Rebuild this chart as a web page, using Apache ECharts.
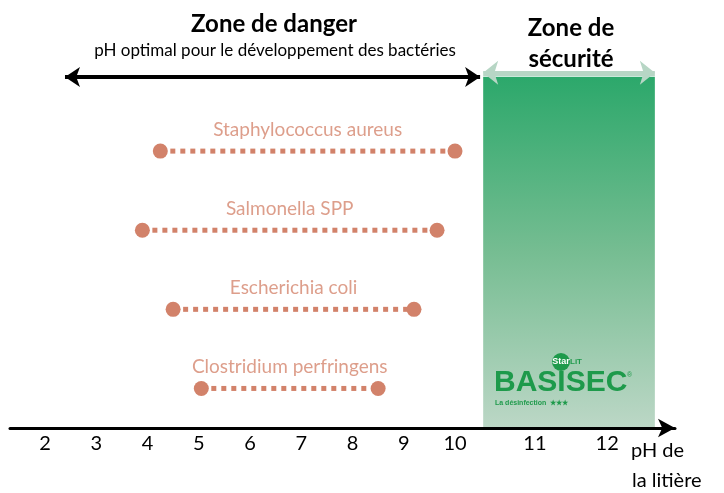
<!DOCTYPE html>
<html>
<head>
<meta charset="utf-8">
<script src="https://cdn.jsdelivr.net/npm/echarts@6.0.0/dist/echarts.min.js"></script>
<style>
  html, body { margin: 0; padding: 0; background: #fff; }
  #chart { width: 724px; height: 493px; }
</style>
</head>
<body>
<div id="chart"></div>
<script>
// bacteria growth ranges (pH)
var bacteria = ['Clostridium perfringens', 'Escherichia coli', 'Salmonella SPP', 'Staphylococcus aureus'];
var rowLevel = [1, 2, 3, 4];
var phLow = [5.05, 4.5, 3.9, 4.25];
var phHigh = [8.5, 9.2, 9.65, 10.0];

// zones
var dangerRange = [2.39, 10.49];
var safeRange = [10.55, 13.9];

// tick labels, and where each one sits on the pH scale in the reference
var tickLabels = ['2', '3', '4', '5', '6', '7', '8', '9', '10', '11', '12'];
var tickAt = [2, 3, 4, 5, 6, 7, 8, 9, 10, 11.56, 12.97];

var salmon = '#d2826a';
var font = 'Lato';

var chart = echarts.init(document.getElementById('chart'));

var bacteriaSeries = [];
for (var i = 0; i < bacteria.length; i++) {
	bacteriaSeries.push({
		name: bacteria[i],
		type: 'line',
		z: 4,
		data: [[phLow[i], rowLevel[i]], [phHigh[i], rowLevel[i]]],
		symbol: 'circle',
		symbolSize: 15,
		itemStyle: { color: salmon },
		lineStyle: { color: salmon, width: 5, type: [5, 5], cap: 'butt' },
		silent: true
	});
}

var nameData = [];
for (var j = 0; j < bacteria.length; j++) {
	nameData.push([(phLow[j] + phHigh[j]) / 2, rowLevel[j], bacteria[j]]);
}

function arrowSeries(range, level, color, width, size) {
	return {
		type: 'line',
		data: [],
		z: 3,
		silent: true,
		markLine: {
			silent: true,
			symbol: ['arrow', 'arrow'],
			symbolSize: size,
			label: { show: false },
			lineStyle: { color: color, width: width, type: 'solid' },
			emphasis: { disabled: true },
			data: [[{ coord: [range[0], level] }, { coord: [range[1], level] }]]
		}
	};
}

var option = {
	animation: false,
	grid: { left: 10, right: 49, top: 72, bottom: 65 },
	xAxis: {
		type: 'value',
		min: 1.317,
		max: 14.293,
		z: 5,
		axisLine: {
			lineStyle: { color: '#000', width: 3 },
			symbol: ['none', 'arrow'],
			symbolSize: [14, 17]
		},
		axisTick: { show: false },
		splitLine: { show: false },
		axisLabel: {
			customValues: tickAt,
			margin: 6,
			color: '#000',
			fontFamily: font,
			fontSize: 20,
			formatter: function (v) {
				var best = 0;
				for (var k = 0; k < tickAt.length; k++) {
					if (Math.abs(tickAt[k] - v) < Math.abs(tickAt[best] - v)) best = k;
				}
				return tickLabels[best];
			}
		}
	},
	yAxis: {
		type: 'value',
		min: 0.5,
		max: 5,
		show: false
	},
	series: [{
		type: 'line',
		data: [],
		z: 1,
		silent: true,
		markArea: {
			silent: true,
			itemStyle: {
				color: new echarts.graphic.LinearGradient(0, 0, 0, 1, [
					{ offset: 0, color: '#2ca86b' },
					{ offset: 0.5, color: '#76bd92' },
					{ offset: 1, color: '#bcd7c6' }
				])
			},
			data: [[{ xAxis: safeRange[0], yAxis: 4.94 }, { xAxis: safeRange[1], yAxis: 0.5 }]]
		}
	},
	arrowSeries(dangerRange, 4.937, '#000', 4, [15, 15]),
	arrowSeries(safeRange, 4.99, '#b7d6c5', 5, [18, 15])
	].concat(bacteriaSeries).concat([{
		type: 'scatter',
		z: 4,
		silent: true,
		symbolSize: 0,
		data: nameData,
		label: {
			show: true,
			position: 'top',
			distance: 12,
			color: '#d4866e',
			fontFamily: font,
			fontSize: 19,
			formatter: function (p) { return p.value[2]; }
		}
	}]),
	graphic: [
		{ type: 'text', x: 274, y: 24, style: { text: 'Zone de danger', font: 'bold 24px ' + font, fill: '#000', align: 'center', verticalAlign: 'middle' } },
		{ type: 'text', x: 275, y: 51, style: { text: 'pH optimal pour le développement des bactéries', font: '17px ' + font, fill: '#000', align: 'center', verticalAlign: 'middle' } },
		{ type: 'text', x: 571, y: 28, style: { text: 'Zone de', font: 'bold 24px ' + font, fill: '#000', align: 'center', verticalAlign: 'middle' } },
		{ type: 'text', x: 571, y: 59, style: { text: 'sécurité', font: 'bold 24px ' + font, fill: '#000', align: 'center', verticalAlign: 'middle' } },
		{ type: 'text', x: 631, y: 451, style: { text: 'pH de', font: '20px ' + font, fill: '#000', verticalAlign: 'middle' } },
		{ type: 'text', x: 632, y: 481, style: { text: 'la litière', font: '20px ' + font, fill: '#000', verticalAlign: 'middle' } },
		// BASISEC logo
		{ type: 'text', x: 494, y: 383, z: 10, style: { text: 'BASISEC', font: 'bold 30px "Liberation Sans"', fill: '#1e9a4b', verticalAlign: 'middle' } },
		{ type: 'circle', z: 10, shape: { cx: 561, cy: 362, r: 9 }, style: { fill: '#1e9a4b' } },
		{ type: 'text', x: 561, y: 362, z: 11, style: { text: 'Star', font: 'bold 9px "Liberation Sans"', fill: '#fff', align: 'center', verticalAlign: 'middle' } },
		{ type: 'text', x: 570, y: 362, z: 11, style: { text: 'LiT', font: 'bold 8px "Liberation Sans"', fill: '#1e9a4b', verticalAlign: 'middle' } },
		{ type: 'text', x: 627, y: 375, z: 10, style: { text: '®', font: '7px "Liberation Sans"', fill: '#1e9a4b', verticalAlign: 'middle' } },
		{ type: 'text', x: 495, y: 403, z: 10, style: { text: 'La désinfection  ★★★', font: 'bold 7px "Liberation Sans"', fill: '#1e9a4b', verticalAlign: 'middle' } }
	]
};

chart.setOption(option);
</script>
</body>
</html>
